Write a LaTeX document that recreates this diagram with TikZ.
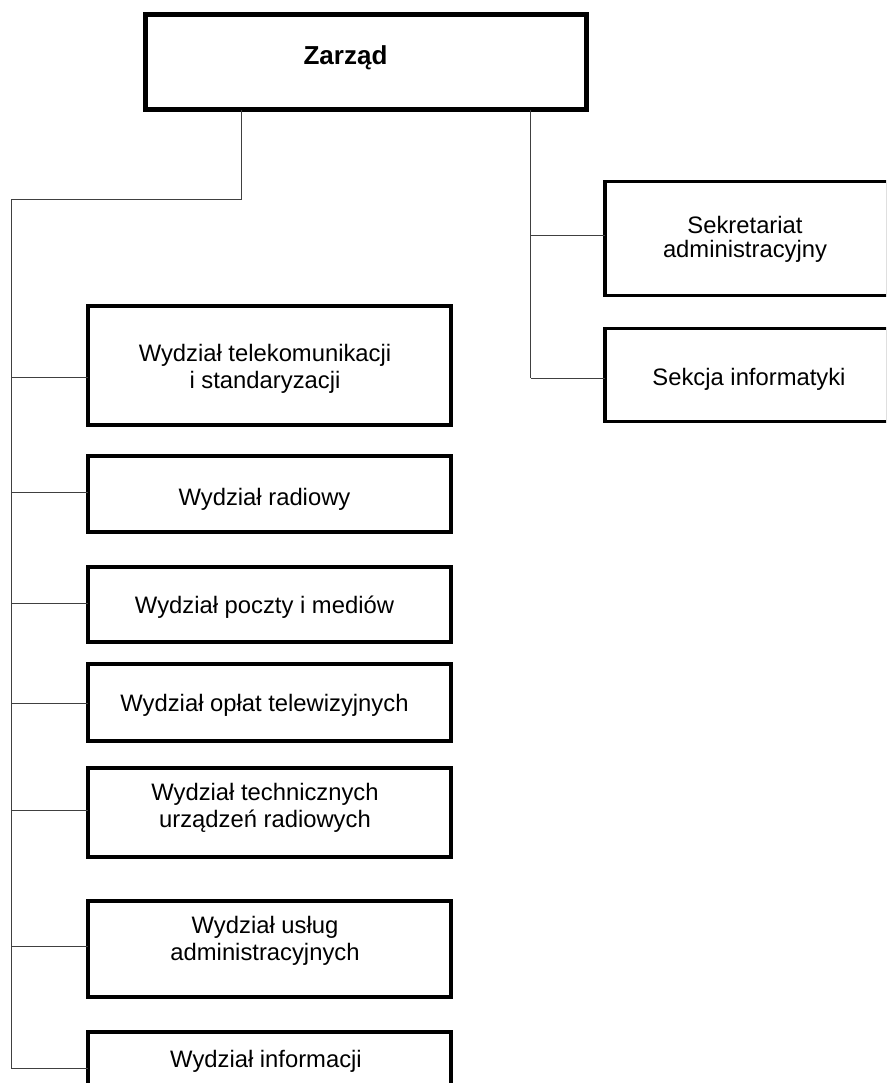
\documentclass[tikz,border=0pt]{standalone}
\usepackage{fontspec}
\setmainfont{Liberation Sans}
\begin{document}
\begin{tikzpicture}[x=1pt,y=-1pt,
  box/.style={draw=black, line width=3.5pt, inner sep=0pt, outer sep=0pt, rectangle},
  topbox/.style={box, line width=5pt},
  conn/.style={draw=black!75, line width=1pt},
  lbl/.style={inner sep=0pt, outer sep=0pt, font=\fontsize{23.8}{27.5}\selectfont, align=center},
  lblr/.style={lbl, font=\fontsize{23.8}{23.5}\selectfont},
  toplbl/.style={inner sep=0pt, outer sep=0pt, font=\fontsize{26}{30}\selectfont\bfseries}
]
\useasboundingbox (0,0) rectangle (886,1083);
\clip (0,0) rectangle (886,1083);
\fill[white] (0,0) rectangle (886,1083);

% boxes
\node[topbox, minimum width=441pt, minimum height=95.5pt] (z) at (365.5,62.25) {};
\node[box, minimum width=363pt, minimum height=119pt] (b1) at (269.5,365.5) {};
\node[box, minimum width=363pt, minimum height=76pt]  (b2) at (269.5,494) {};
\node[box, minimum width=363pt, minimum height=75pt]  (b3) at (269.5,604.5) {};
\node[box, minimum width=363pt, minimum height=77pt]  (b4) at (269.5,702.5) {};
\node[box, minimum width=363pt, minimum height=89pt]  (b5) at (269.5,812.5) {};
\node[box, minimum width=363pt, minimum height=96pt]  (b6) at (269.5,949) {};
\node[box, minimum width=363pt, minimum height=78pt]  (b7) at (269.5,1071) {};
\node[box, minimum width=283pt, minimum height=114pt] (r1) at (746.5,238.7) {};
\node[box, minimum width=283pt, minimum height=93pt]  (r2) at (746.5,374.8) {};

% texts
\node[toplbl, anchor=base] (tz) at (345.5,65) {Zarząd};
\node[lbl, anchor=north] (t1) at (265,343.5) {\rule{0pt}{17.5pt}Wydział telekomunikacji\\i standaryzacji};
\node[lbl, anchor=base] (t2) at (264.5,505) {Wydział radiowy};
\node[lbl, anchor=base] (t3) at (264.5,613.3) {Wydział poczty i mediów};
\node[lbl, anchor=base] (t4) at (264.5,711.7) {Wydział opłat telewizyjnych};
\node[lbl, anchor=north] (t5) at (265,782.5) {\rule{0pt}{17.5pt}Wydział technicznych\\urządzeń radiowych};
\node[lbl, anchor=north] (t6) at (265,915.8) {\rule{0pt}{17.5pt}Wydział usług\\administracyjnych};
\node[lbl, anchor=base] (t7) at (266,1067.3) {Wydział informacji};
\node[lblr, anchor=north] (tr1) at (745,216) {\rule{0pt}{17.5pt}Sekretariat\\administracyjny};
\node[lbl, anchor=base] (tr2) at (749,385) {Sekcja informatyki};

% connectors
\coordinate (lstem) at (241,200);
\coordinate (lcorner) at (11,200);
\coordinate (j1) at (11,377);
\coordinate (j2) at (11,492);
\coordinate (j3) at (11,603.3);
\coordinate (j4) at (11,703.3);
\coordinate (j5) at (11,810);
\coordinate (j6) at (11,946.7);
\coordinate (j7) at (11,1068.3);
\coordinate (rstem) at (530.5,110);
\coordinate (k1) at (530.5,235.7);
\coordinate (k2) at (530.5,378.3);

\draw[conn] (z.south -| lstem) -- (lstem) -- (lcorner) -- (j7);
\draw[conn] (j1) -- (j1 -| b1.west);
\draw[conn] (j2) -- (j2 -| b2.west);
\draw[conn] (j3) -- (j3 -| b3.west);
\draw[conn] (j4) -- (j4 -| b4.west);
\draw[conn] (j5) -- (j5 -| b5.west);
\draw[conn] (j6) -- (j6 -| b6.west);
\draw[conn] (j7) -- (j7 -| b7.west);
\draw[conn] (z.south -| rstem) -- (k2);
\draw[conn] (k1) -- (k1 -| r1.west);
\draw[conn] (k2) -- (k2 -| r2.west);
\end{tikzpicture}
\end{document}
